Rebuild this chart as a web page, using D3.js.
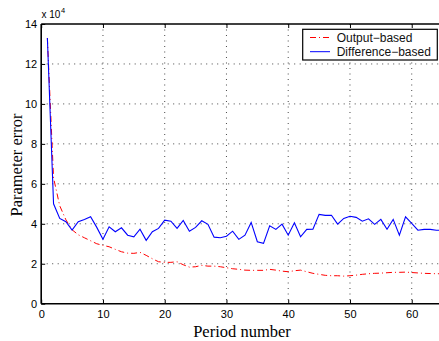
<!DOCTYPE html>
<html>
<head>
<meta charset="utf-8">
<script src="https://cdn.jsdelivr.net/npm/d3@7"></script>
<style>
  body { margin: 0; background: #fff; }
  svg { display: block; }
  .tick text { font-family: "Liberation Sans", Arial, sans-serif; font-size: 11px; fill: #000; }
</style>
</head>
<body>
<div id="chart"></div>
<script>
// period numbers 1..65
const periods = d3.range(1, 66);

// parameter error, units of 1e4
const outputBased = [13.3, 6.3, 4.9, 4.2, 3.7, 3.45, 3.3, 3.15, 3.0, 2.92,
  2.85, 2.72, 2.6, 2.53, 2.52, 2.57, 2.42, 2.25, 2.1, 2.07,
  2.07, 2.1, 1.95, 1.83, 1.85, 1.92, 1.88, 1.88, 1.85, 1.8,
  1.75, 1.72, 1.68, 1.67, 1.67, 1.67, 1.72, 1.68, 1.63, 1.6,
  1.65, 1.68, 1.6, 1.52, 1.47, 1.42, 1.4, 1.4, 1.38, 1.4,
  1.43, 1.47, 1.5, 1.52, 1.53, 1.55, 1.57, 1.57, 1.58, 1.56,
  1.54, 1.52, 1.51, 1.5, 1.5];

const differenceBased = [13.3, 5.0, 4.27, 4.1, 3.68, 4.1, 4.22, 4.35, 3.82, 3.23,
  3.85, 3.6, 3.8, 3.43, 3.35, 3.73, 3.17, 3.6, 3.77, 4.18,
  4.13, 3.77, 4.17, 3.63, 3.82, 4.15, 3.97, 3.33, 3.3, 3.38,
  3.63, 3.22, 3.43, 4.07, 3.1, 3.02, 3.9, 3.72, 3.98, 3.43,
  4.05, 3.35, 3.72, 3.73, 4.47, 4.42, 4.43, 3.98, 4.27, 4.38,
  4.32, 4.13, 4.25, 3.97, 4.22, 3.73, 4.22, 3.43, 4.35, 4.02,
  3.68, 3.72, 3.72, 3.68, 3.68];

const xTicks = [0, 10, 20, 30, 40, 50, 60];
const yTicks = [0, 2, 4, 6, 8, 10, 12, 14];
const seriesNames = ["Output\u2212based", "Difference\u2212based"];

const W = 439, H = 341;
const mLeft = 41.2, mTop = 24, mBottom = 303.7, mRight = 442.6;

const svg = d3.select("#chart").append("svg")
  .attr("width", W).attr("height", H);

const x = d3.scaleLinear().domain([0, 65]).range([mLeft, mRight]);
const y = d3.scaleLinear().domain([0, 14]).range([mBottom, mTop]);

svg.append("defs").append("clipPath").attr("id", "plot-clip")
  .append("rect").attr("x", mLeft).attr("y", mTop)
  .attr("width", mRight - mLeft).attr("height", mBottom - mTop);

// grid
const grid = svg.append("g").attr("stroke", "#333").attr("stroke-width", 0.9)
  .attr("stroke-dasharray", "1,4.5");
grid.selectAll("line.gx").data(xTicks.slice(1)).join("line")
  .attr("x1", d => x(d)).attr("x2", d => x(d))
  .attr("y1", mTop).attr("y2", mBottom);
grid.selectAll("line.gy").data(yTicks.slice(1, -1)).join("line")
  .attr("x1", mLeft).attr("x2", mRight)
  .attr("y1", d => y(d)).attr("y2", d => y(d));

// lines
const line = vals => d3.line()
  .x((d, i) => x(periods[i]))
  .y(d => y(d))(vals);

const plot = svg.append("g").attr("clip-path", "url(#plot-clip)");
plot.append("path").attr("d", line(outputBased))
  .attr("fill", "none").attr("stroke", "#ff0000").attr("stroke-width", 1)
  .attr("stroke-dasharray", "6,3,1,3");
plot.append("path").attr("d", line(differenceBased))
  .attr("fill", "none").attr("stroke", "#0000ff").attr("stroke-width", 1.1);

// axes (ticks inside like matlab)
const xAxis = svg.append("g").attr("transform", `translate(0,${mBottom})`)
  .call(d3.axisBottom(x).tickValues(xTicks).tickSize(-4).tickPadding(7));
const yAxis = svg.append("g").attr("transform", `translate(${mLeft},0)`)
  .call(d3.axisLeft(y).tickValues(yTicks).tickSize(-4).tickPadding(4));
const xTop = svg.append("g").attr("transform", `translate(0,${mTop})`)
  .call(d3.axisTop(x).tickValues(xTicks).tickSize(-4).tickFormat(""));
[xAxis, yAxis, xTop].forEach(g => {
  g.select(".domain").remove();
  g.selectAll(".tick line").attr("stroke", "#000");
});

// frame
svg.append("g").attr("stroke", "#000").attr("stroke-width", 1.6)
  .selectAll("line")
  .data([[mLeft, mTop, mRight, mTop], [mLeft, mBottom, mRight, mBottom], [mLeft, mTop, mLeft, mBottom]])
  .join("line")
  .attr("x1", d => d[0]).attr("y1", d => d[1])
  .attr("x2", d => d[2]).attr("y2", d => d[3]);

// exponent label
const expo = svg.append("text").attr("x", 41.5).attr("y", 18.3)
  .attr("font-family", "Liberation Sans, Arial, sans-serif").attr("font-size", 10);
expo.append("tspan").text("x 10");
expo.append("tspan").attr("dy", -5).attr("dx", 0.5).attr("font-size", 7.5).text("4");

// axis titles
svg.append("text").attr("x", 242).attr("y", 337)
  .attr("text-anchor", "middle")
  .attr("font-family", "Liberation Serif, Times New Roman, serif").attr("font-size", 16.5)
  .text("Period number");
svg.append("text")
  .attr("transform", "translate(21.5,165) rotate(-90)")
  .attr("text-anchor", "middle")
  .attr("font-family", "Liberation Serif, Times New Roman, serif").attr("font-size", 16.5)
  .text("Parameter error");

// legend
const lg = svg.append("g");
lg.append("rect").attr("x", 302.7).attr("y", 29.3).attr("width", 134.6).attr("height", 30.7)
  .attr("fill", "#fff").attr("stroke", "#000").attr("stroke-width", 1.2);
const legendRows = [
  { name: seriesNames[0], color: "#ff0000", dash: "6,3,1,3" },
  { name: seriesNames[1], color: "#0000ff", dash: null }
];
legendRows.forEach((r, i) => {
  const yy = 37.5 + i * 14.2;
  lg.append("line").attr("x1", 310).attr("x2", 330).attr("y1", yy).attr("y2", yy)
    .attr("stroke", r.color).attr("stroke-width", 1)
    .attr("stroke-dasharray", r.dash);
  lg.append("text").attr("x", 336.7).attr("y", yy + 4.4)
    .attr("font-family", "Liberation Sans, Arial, sans-serif").attr("font-size", 12)
    .attr("fill", "#111").text(r.name);
});
</script>
</body>
</html>
